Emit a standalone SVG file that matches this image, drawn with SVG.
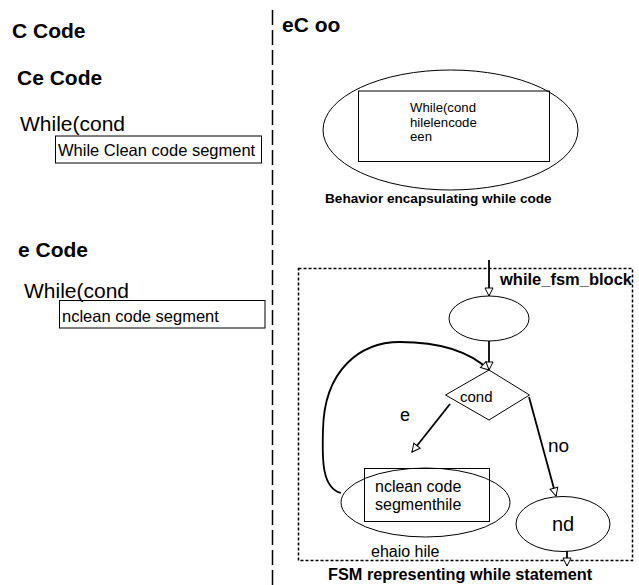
<svg xmlns="http://www.w3.org/2000/svg" width="639" height="585" viewBox="0 0 639 585">
  <style>
    .title { font-family: "Liberation Sans", Arial, sans-serif; font-weight: bold; font-size: 21px; fill: #000; }
    .big { font-family: "Liberation Sans", Arial, sans-serif; font-size: 21px; fill: #000; }
    .code { font-family: "Liberation Sans", Arial, sans-serif; font-size: 16.5px; fill: #000; }
    .small { font-family: "Liberation Sans", Arial, sans-serif; font-size: 13.2px; fill: #000; }
    .mid { font-family: "Liberation Sans", Arial, sans-serif; font-size: 16px; fill: #000; }
    .lbl { font-family: "Liberation Sans", Arial, sans-serif; fill: #000; }
    .cap { font-family: "Liberation Sans", Arial, sans-serif; font-weight: bold; fill: #000; }
    .shape { fill: none; stroke: #000; stroke-width: 1; }
    .conn { fill: none; stroke: #000; stroke-width: 1.8; }
  </style>
  <defs>
    <marker id="open-arrow" markerUnits="userSpaceOnUse" markerWidth="10" markerHeight="10" refX="8" refY="4" orient="auto" overflow="visible">
      <path d="M0,0 L8,4 L0,8 Z" fill="#fff" stroke="#000" stroke-width="1"/>
    </marker>
  </defs>
  <rect width="639" height="585" fill="#fff"/>

  <!-- divider between the two columns -->
  <line x1="272.5" y1="10" x2="272.5" y2="585" stroke="#000" stroke-width="1.5" stroke-dasharray="15 5"/>

  <!-- left column -->
  <g id="heading-c-code"><text class="title" x="12" y="38">C Code</text></g>
  <g id="heading-ce-code"><text class="title" x="17" y="85">Ce Code</text></g>
  <g id="clean-while">
    <text class="big" x="20" y="131">While(cond</text>
    <rect class="shape" x="55.5" y="136" width="206" height="27" fill="#fff"/>
    <text class="code" x="58" y="156">While Clean code segment</text>
  </g>
  <g id="heading-e-code"><text class="title" x="18" y="257">e Code</text></g>
  <g id="unclean-while">
    <text class="big" x="24" y="298">While(cond</text>
    <rect class="shape" x="59.5" y="300.5" width="205.5" height="27.5" fill="#fff"/>
    <text class="code" x="62" y="322">nclean code segment</text>
  </g>

  <!-- right column -->
  <g id="heading-ec-oo"><text class="title" x="282" y="32">eC oo</text></g>
  <g id="behavior">
    <ellipse class="shape" cx="450.5" cy="130" rx="127.5" ry="60"/>
    <rect class="shape" x="358.5" y="91" width="191" height="70.5"/>
    <text class="small" x="410" y="112">While(cond</text>
    <text class="small" x="410" y="126.5">hilelencode</text>
    <text class="small" x="410" y="141">een</text>
    <text class="cap" x="325" y="203" font-size="13.6">Behavior encapsulating while code</text>
  </g>

  <!-- FSM -->
  <g id="fsm-block">
    <rect x="298.5" y="268.5" width="334" height="292" fill="none" stroke="#000" stroke-width="1.5" stroke-dasharray="3 2"/>
    <text class="cap" x="500" y="285" font-size="16.5">while_fsm_block</text>
    <text class="mid" x="371" y="557">ehaio hile</text>
  </g>
  <g id="state-start">
    <ellipse class="shape" cx="489" cy="318.5" rx="40" ry="22.5"/>
  </g>
  <g id="state-cond">
    <polygon class="shape" points="489,370 529.5,395 489,420 445.5,395"/>
    <text class="lbl" x="460" y="402" font-size="15">cond</text>
  </g>
  <g id="state-body">
    <ellipse class="shape" cx="425.5" cy="502.5" rx="84.5" ry="34.5"/>
    <rect class="shape" x="364.5" y="468.5" width="125" height="53"/>
    <text class="mid" x="375" y="492">nclean code</text>
    <text class="mid" x="375" y="510">segmenthile</text>
  </g>
  <g id="state-end">
    <ellipse class="shape" cx="563" cy="524" rx="47" ry="27.5"/>
    <text class="lbl" x="563" y="531" text-anchor="middle" font-size="20">nd</text>
  </g>
  <g id="fsm-caption">
    <text class="cap" x="328" y="580" font-size="16.3">FSM representing while statement</text>
  </g>

  <g id="connectors">
    <line class="conn" x1="489" y1="260" x2="489" y2="296" marker-end="url(#open-arrow)"/>
    <line class="conn" x1="489" y1="341" x2="489" y2="370" marker-end="url(#open-arrow)"/>
    <path class="conn" d="M341,493 C322,488 322,460 323,430 C324,370 360,342 400,342 C440,342 470,352 489,370" marker-end="url(#open-arrow)"/>
    <line class="conn" x1="450" y1="404" x2="412" y2="452" marker-end="url(#open-arrow)"/>
    <line class="conn" x1="529" y1="397" x2="556" y2="496" marker-end="url(#open-arrow)"/>
    <line class="conn" x1="567" y1="551" x2="567" y2="566" marker-end="url(#open-arrow)"/>
    <text class="lbl" x="400" y="421" font-size="18">e</text>
    <text class="lbl" x="548" y="452" font-size="19">no</text>
  </g>
</svg>
